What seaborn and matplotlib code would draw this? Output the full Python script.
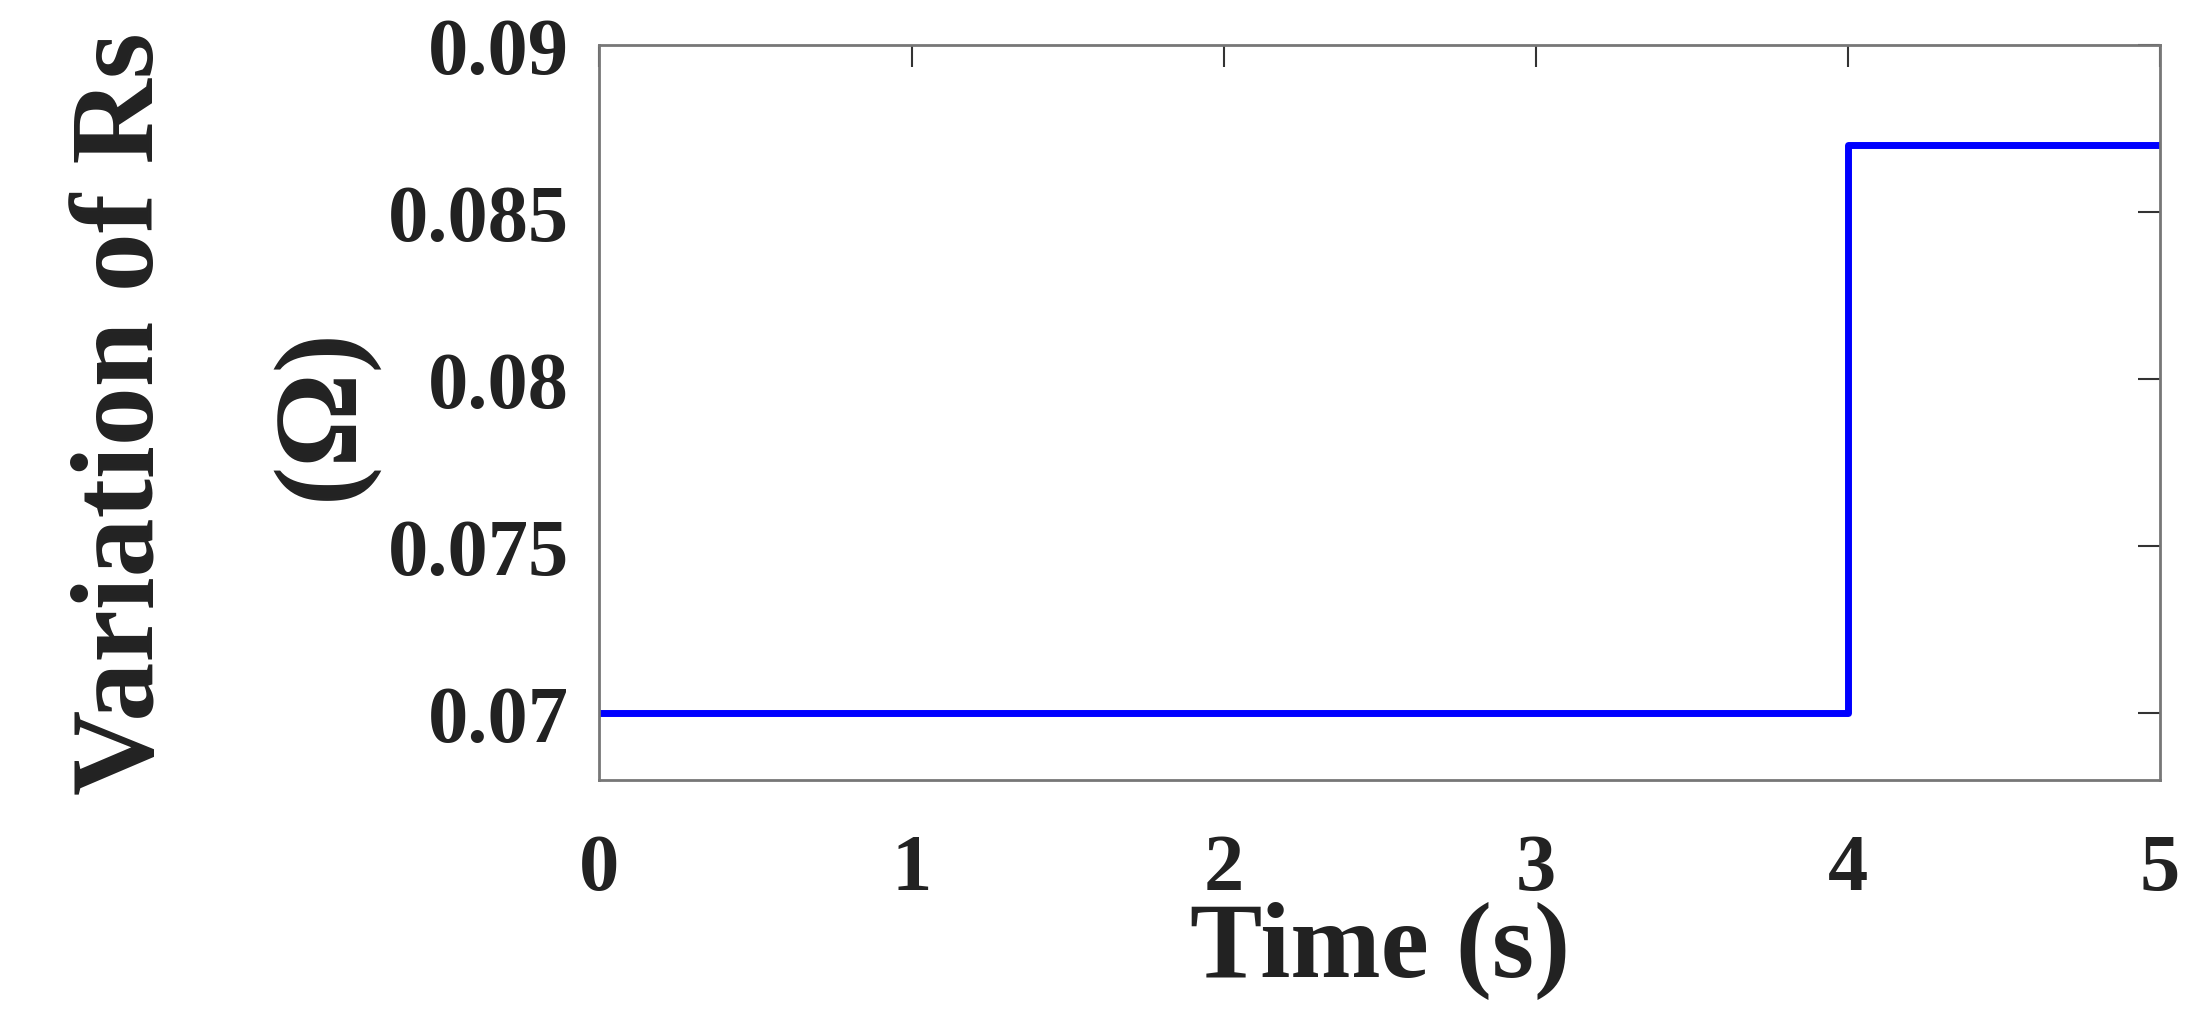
import numpy as np
import pandas as pd
import matplotlib
matplotlib.use("Agg")
import matplotlib.pyplot as plt
import seaborn as sns

# step change of stator resistance
time_s = [0.0, 4.0, 4.0, 5.0]
rs_ohm = [0.07, 0.07, 0.087, 0.087]
x_ticks = [0, 1, 2, 3, 4, 5]
y_ticks = [0.07, 0.075, 0.08, 0.085, 0.09]
y_tick_labels = ["0.07", "0.075", "0.08", "0.085", "0.09"]

sns.set_theme(style="white")
plt.rcParams["font.family"] = ["Liberation Serif", "DejaVu Serif"]
plt.rcParams["font.weight"] = "bold"

df = pd.DataFrame({"t": time_s, "rs": rs_ohm})

fig = plt.figure(figsize=(22.04, 10.2), dpi=100)
ax = fig.add_axes([0.272, 0.234, 0.708, 0.721])

sns.lineplot(data=df, x="t", y="rs", estimator=None, sort=False,
             color="#0000ff", lw=5, ax=ax)

ax.set_xlim(0, 5)
ax.set_ylim(0.068, 0.09)
ax.set_xticks(x_ticks)
ax.set_xticklabels([str(v) for v in x_ticks])
ax.set_yticks(y_ticks)
ax.set_yticklabels(y_tick_labels)

ax.tick_params(axis="both", direction="in", length=16, width=1.5,
               colors="#333333", labelcolor="#222222", labelsize=58,
               top=True, right=True)
ax.tick_params(axis="x", pad=38)
ax.tick_params(axis="y", pad=22)
for lab in ax.get_xticklabels() + ax.get_yticklabels():
    lab.set_fontweight("bold")

for sp in ax.spines.values():
    sp.set_visible(True)
    sp.set_color("#777777")
    sp.set_linewidth(2)

ax.set_xlabel("Time (s)", fontsize=78, fontweight="bold", color="#222222",
              labelpad=-4)
ax.set_ylabel("Variation of Rs\n(\u03a9)", fontsize=85, fontweight="bold",
              color="#222222", linespacing=2.1, labelpad=8)

fig.savefig("out.png", dpi=100)
